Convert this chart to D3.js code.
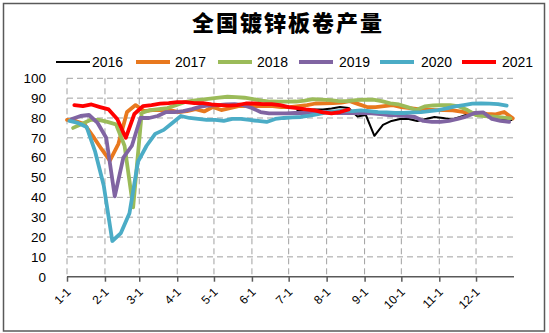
<!DOCTYPE html>
<html>
<head>
<meta charset="utf-8">
<script src="https://cdn.jsdelivr.net/npm/d3@7"></script>
<style>
  html, body { margin: 0; padding: 0; background: #fff; }
  svg { display: block; }
</style>
</head>
<body>
<svg id="chart" width="549" height="333"></svg>
<script>
// ---- data ----
const years = ["2016", "2017", "2018", "2019", "2020", "2021"];
const colors = ["#000000", "#E8781E", "#9BBB59", "#8064A2", "#4BACC6", "#FF0000"];
const monthTicks = ["1-1","2-1","3-1","4-1","5-1","6-1","7-1","8-1","9-1","10-1","11-1","12-1"];
const yTicks = [0,10,20,30,40,50,60,70,80,90,100];

// first weekly observation date (month-day) of each year's series
const startDates = ["07-08", "01-01", "01-06", "01-05", "01-03", "01-07"];

const v2016 = [83.5,84,84.3,84.3,84.8,85.5,85,80.8,81.5,71,76.5,78.5,79.5,79.5,78.5,79.5,80.5,80,79.3,80.5,82,83,82,80.5,79.5,79];
const v2017 = [79,78.5,77,71,64.5,58.5,67,83,86.5,83.5,84,84,84,83,83.5,84.5,83.3,85.5,84,85,86,86,86,86,86,85.5,85.5,86,86.5,87.3,87.4,87.5,87.8,88.5,87,85.5,85.5,86,86.5,85.5,85,84.5,84.3,84,84,83.8,83.2,82.5,82.3,82,81.8,83,79.8];
const v2018 = [75,77,79,79,78,76.8,66,35,82.5,84,84.5,85,86.5,88,88.7,89.3,89.8,90.3,90.7,90.5,90.2,89.5,88.8,88.3,88.2,88.2,88.3,88.8,89.5,89.3,89,88.5,88.5,89,89.2,89.3,88.5,87.4,86.8,85.5,84,85.8,86.3,86.5,86.5,85.8,84,81.5,81,80.7,80.3,79.8];
const v2019 = [79.5,81,81.5,77.5,70,40.5,60,66,80,80,81,83,83,83.5,84.5,85.7,86.3,86.5,86.8,87,86.5,85,83,82.3,82.3,82.3,82.5,82.5,82.5,83,83,82.5,82.5,82.5,82.5,82.3,82,81.5,81.3,81,80.5,78.5,78,78,78.5,79.5,80.7,82.5,82.8,79.5,78.5,78];
const v2020 = [78.5,77.5,75.5,63,46,18,22,32,58,66,72,74,77.5,81,80,79.5,79,79,78.5,79.5,79.5,79,78.5,78,79.5,80,80.3,80.5,81.2,82,82.8,83.3,83.7,83.5,83.8,83.5,83,82.8,82.5,82.5,82.8,83,83.5,84,84.8,85.8,86.5,87.2,87.4,87.2,87,86.2];
const v2021 = [86.5,86,86.8,85.5,84.3,79.5,70,82,86,86.5,87.2,87.5,88,88,87.5,87.5,86.8,86.5,86.2,86.5,87.3,87.3,87,87,86.5,85.5,85,84.3,83.8,82.8,82.3,83,84.3];

const seriesValues = [v2016, v2017, v2018, v2019, v2020, v2021];
const lineWidths = [2, 3.8, 3.8, 3.8, 3.8, 3.8];

// ---- build series (base year 2001, non-leap, for the month-day axis) ----
const parse = d3.timeParse("%Y-%m-%d");
const series = years.map((y, k) => {
  const start = parse("2001-" + startDates[k]);
  return {
    name: y,
    color: colors[k],
    width: lineWidths[k],
    points: seriesValues[k].map((v, i) => ({ date: d3.timeDay.offset(start, 7 * i), value: v }))
  };
});

// ---- layout ----
const svg = d3.select("#chart");
const plot = { left: 67, right: 514, top: 78.3, bottom: 276.7 };

svg.append("rect")
  .attr("x", 3.5).attr("y", 3.5).attr("width", 541).attr("height", 327.5)
  .attr("fill", "#fff").attr("stroke", "#595959").attr("stroke-width", 1.5);

svg.append("text")
  .attr("x", 288).attr("y", 31)
  .attr("text-anchor", "middle")
  .attr("font-family", "'Noto Sans CJK SC', sans-serif")
  .attr("font-weight", 900)
  .attr("font-size", 22)
  .attr("letter-spacing", 2)
  .attr("fill", "#000")
  .text("全国镀锌板卷产量");

const x = d3.scaleTime()
  .domain([parse("2001-01-01"), parse("2002-01-01")])
  .range([plot.left, plot.right]);
const y = d3.scaleLinear().domain([0, 100]).range([plot.bottom, plot.top]);

const tickDates = monthTicks.map(t => {
  const [m, d] = t.split("-");
  return parse(`2001-${m.padStart(2, "0")}-${d.padStart(2, "0")}`);
});

// grid
const grid = svg.append("g");
grid.selectAll("line.h").data(yTicks.filter(v => v > 0)).join("line")
  .attr("x1", plot.left).attr("x2", plot.right)
  .attr("y1", d => y(d)).attr("y2", d => y(d))
  .attr("stroke", "#a0a0a0").attr("stroke-width", 1).attr("stroke-dasharray", "6,4");
grid.selectAll("line.v").data(tickDates).join("line")
  .attr("x1", d => x(d)).attr("x2", d => x(d))
  .attr("y1", plot.top).attr("y2", plot.bottom)
  .attr("stroke", "#a0a0a0").attr("stroke-width", 1).attr("stroke-dasharray", "6,4");

// y axis labels
const yAxis = d3.axisLeft(y).tickValues(yTicks).tickSize(0).tickPadding(0);
const gy = svg.append("g").attr("transform", `translate(46,0)`).call(yAxis);
gy.select(".domain").remove();
gy.selectAll("text")
  .attr("font-family", "'Liberation Sans', Arial, sans-serif")
  .attr("font-size", 13.5).attr("fill", "#000");

// x axis
const xAxis = d3.axisBottom(x).tickValues(tickDates).tickSize(5).tickFormat((d, i) => monthTicks[i]);
const gx = svg.append("g").attr("transform", `translate(0,${plot.bottom})`).call(xAxis);
gx.select(".domain").attr("stroke", "#595959").attr("stroke-width", 1.5)
  .attr("d", `M${plot.left},0H${plot.right}`);
gx.selectAll(".tick line").attr("stroke", "#595959").attr("stroke-width", 1.5);
gx.selectAll(".tick text")
  .attr("font-family", "'Liberation Sans', Arial, sans-serif")
  .attr("font-size", 12).attr("fill", "#000")
  .attr("text-anchor", "end")
  .attr("dy", "0.35em")
  .attr("transform", "translate(1,13) rotate(-45)")
  .attr("y", 0).attr("x", 0);

// lines
const line = d3.line().x(d => x(d.date)).y(d => y(d.value)).curve(d3.curveLinear);
svg.append("g").selectAll("path").data(series).join("path")
  .attr("d", d => line(d.points))
  .attr("fill", "none")
  .attr("stroke", d => d.color)
  .attr("stroke-width", d => d.width)
  .attr("stroke-linejoin", "round")
  .attr("stroke-linecap", "round");

// legend
const legendItems = [
  { lx: 56, tx: 92 }, { lx: 136, tx: 175 }, { lx: 218, tx: 257 },
  { lx: 299, tx: 339 }, { lx: 380, tx: 421 }, { lx: 462, tx: 502 }
];
const lg = svg.append("g");
series.forEach((s, k) => {
  const it = legendItems[k];
  lg.append("line")
    .attr("x1", it.lx).attr("x2", it.lx + 34)
    .attr("y1", 62).attr("y2", 62)
    .attr("stroke", s.color).attr("stroke-width", s.width);
  lg.append("text")
    .attr("x", it.tx).attr("y", 62).attr("dy", "0.35em")
    .attr("font-family", "'Liberation Sans', Arial, sans-serif")
    .attr("font-size", 14).attr("fill", "#000")
    .text(s.name);
});
</script>
</body>
</html>
